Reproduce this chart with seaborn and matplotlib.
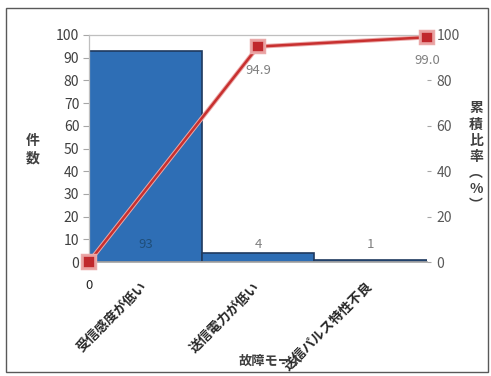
import matplotlib
matplotlib.use("Agg")
import matplotlib.pyplot as plt
import matplotlib.patheffects as pe
from matplotlib.patches import Rectangle
import pandas as pd
import seaborn as sns

# Failure modes and their counts
modes = ["受信感度が低い", "送信電力が低い", "送信パルス特性不良"]
counts = [93, 4, 1]

# Cumulative ratio series (%), drawn on its own category scale
cum_pos = [0, 1, 2]
cum_ratio = [0, 94.9, 99.0]
cum_text = ["0", "94.9", "99.0"]

left_ticks = list(range(0, 101, 10))
right_ticks = list(range(0, 101, 20))

sns.set_theme(style="white")
plt.rcParams["font.family"] = ["Noto Sans CJK JP", "DejaVu Sans"]

W, H = 491, 376
fig = plt.figure(figsize=(W / 100, H / 100), dpi=100)
rect = [89 / W, 1 - 262 / H, (427 - 89) / W, 227 / H]

# Bars: counts per failure mode
ax = fig.add_axes(rect)
df = pd.DataFrame({"mode": modes, "count": counts})
sns.barplot(data=df, x="mode", y="count", ax=ax, color="#2E6EB5",
            saturation=1, width=1.0, edgecolor="#1F3A5F", linewidth=1.2)
ax.set_xlim(-0.5, len(modes) - 0.5)
ax.set_ylim(0, 100)
ax.set_yticks(left_ticks)
ax.set_xlabel("")
ax.set_ylabel("")
for s in ["top", "left"]:
    ax.spines[s].set_color("#BFBFBF")
    ax.spines[s].set_linewidth(0.9)
ax.spines["bottom"].set_color("#A6A6A6")
ax.spines["right"].set_visible(False)
ax.tick_params(axis="y", left=True, direction="out", length=4, width=0.8,
               color="#A6A6A6", labelsize=10, labelcolor="#404040", pad=3)
ax.tick_params(axis="x", bottom=False, length=0, pad=16)
ax.set_xticks(range(len(modes)))
ax.set_xticklabels(modes, rotation=45, ha="right", va="center",
                   rotation_mode="anchor", fontsize=9.5, fontweight="bold",
                   color="#262626")

for i, v in enumerate(counts):
    ax.text(i, 7.5, f"{v}", ha="center", va="center", fontsize=9.5,
            color="#1F4E79" if v > 50 else "#7F7F7F")

# Line: cumulative ratio on the secondary axis
ax2 = fig.add_axes(rect, frameon=False)
ax2.patch.set_alpha(0)
sns.lineplot(x=cum_pos, y=cum_ratio, ax=ax2, color="#C8302F", linewidth=1.8,
             marker="s", markersize=8, markerfacecolor="#C0282D",
             markeredgecolor="#E9A0A0", markeredgewidth=1.2, clip_on=False,
             path_effects=[pe.Stroke(linewidth=3.2, foreground="#EBA9A9"), pe.Normal()])
ax2.set_xlim(0, 2)
ax2.set_ylim(0, 100)
ax2.set_yticks(right_ticks)
ax2.set_xticks([])
ax2.yaxis.tick_right()
ax2.spines["right"].set_visible(True)
ax2.spines["right"].set_color("#A6A6A6")
ax2.spines["right"].set_linewidth(0.9)
ax2.tick_params(axis="y", right=True, left=False, direction="out", length=3,
                width=0.8, color="#A6A6A6", labelsize=10, labelcolor="#595959", pad=4)
ax2.set_xlabel("")
ax2.set_ylabel("")
for x, y, t in zip(cum_pos, cum_ratio, cum_text):
    ax2.annotate(t, (x, y), xytext=(0, -17), textcoords="offset points",
                 ha="center", va="center", fontsize=9.5,
                 color="#262626" if t == "0" else "#7F7F7F")

# Axis titles
fig.text(33 / W, 1 - 150 / H, "件\n数", ha="center", va="center",
         fontsize=10, fontweight="bold", color="#404040", linespacing=1.3)
fig.text(476 / W, 1 - 157 / H, "累\n積\n比\n率\n︵\n%\n︶", ha="center", va="center",
         fontsize=10, fontweight="bold", color="#404040", linespacing=1.2)
fig.text(272 / W, 1 - 361 / H, "故障モード", ha="center", va="center",
         fontsize=9.5, fontweight="bold", color="#404040")

# Chart area frame
fig.patches.append(Rectangle((6 / W, 4 / H), (488 - 6) / W, (372 - 8) / H,
                             transform=fig.transFigure, fill=False,
                             edgecolor="#595959", linewidth=1.0))

fig.savefig("out.png", dpi=100)
